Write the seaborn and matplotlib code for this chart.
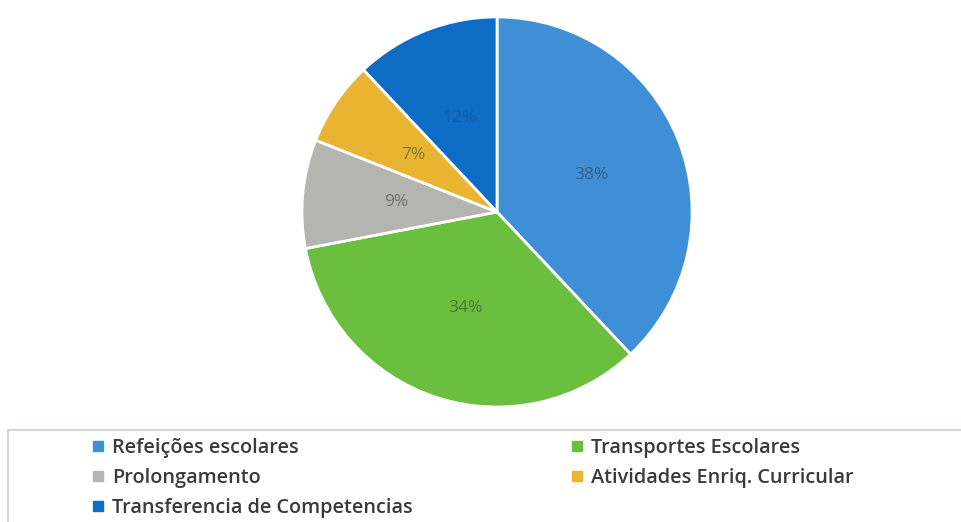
import matplotlib.pyplot as plt
import seaborn as sns
from matplotlib.lines import Line2D
from matplotlib.patches import Rectangle

categories = ["Refeições escolares", "Transportes Escolares", "Prolongamento",
              "Atividades Enriq. Curricular", "Transferencia de Competencias"]
shares = [38, 34, 9, 7, 12]
colors = ["#3f8fd6", "#6bbf3e", "#b4b4b0", "#e9b431", "#0f6cc4"]

sns.set_theme(style="white")
plt.rcParams['font.family'] = ['Open Sans', 'DejaVu Sans']

fig = plt.figure(figsize=(9.61, 5.22), dpi=100)
ax = fig.add_axes([0.3122, 0.2165, 0.41, 0.7548])

wedges, texts, autotexts = ax.pie(
    shares, colors=colors, startangle=90, counterclock=False,
    autopct="%d%%", pctdistance=0.52,
    wedgeprops=dict(edgecolor="white", linewidth=2),
    textprops=dict(color="#303030", alpha=0.5, fontsize=12.5))
ax.set_xlim(-1.01, 1.01)
ax.set_ylim(-1.01, 1.01)
autotexts[4].set_color("#1a4f85")

# legend frame along the bottom
fig.add_artist(Rectangle((8 / 961, -0.01), 1.0, 0.186, transform=fig.transFigure,
                         facecolor="white", edgecolor="#c5cfda", linewidth=1.2))

handles = [Line2D([], [], marker="s", linestyle="none", markersize=7.5,
                  markerfacecolor=c, markeredgecolor=c) for c in colors]
order = [0, 2, 4, 1, 3]
fig.legend([handles[i] for i in order], [categories[i] for i in order],
           ncol=2, frameon=False, loc="upper left",
           bbox_to_anchor=(82 / 961, 1 - 430 / 522),
           prop=dict(size=14.3, weight="semibold"), labelcolor="#3a3a3a",
           handletextpad=0.3, handlelength=0.8, columnspacing=7.9,
           labelspacing=0.5, borderaxespad=0)

fig.savefig("out.png", dpi=100)
